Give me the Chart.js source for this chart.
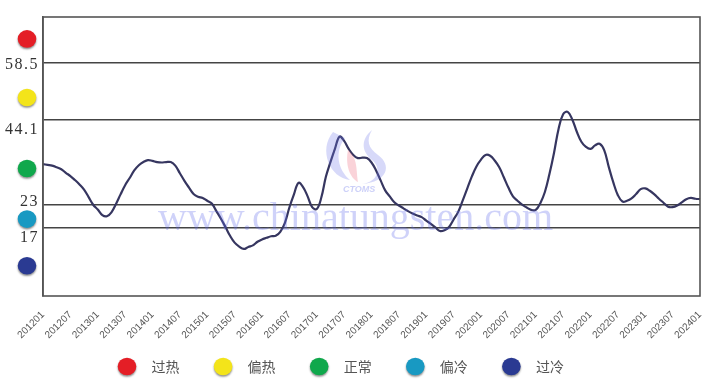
<!DOCTYPE html>
<html><head><meta charset="utf-8">
<script src="https://cdn.jsdelivr.net/npm/chart.js@4.4.1/dist/chart.umd.min.js"></script>
<style>html,body{margin:0;padding:0;background:#fff;}#wrap{position:relative;width:710px;height:382px;}</style>
</head><body><div id="wrap"><canvas id="c" width="710" height="382"></canvas></div>
<script>
// ---- data ----
const categories = [];
for (let y = 2012; y <= 2024; y++) for (let m = 1; m <= 12; m++) {
  if (y === 2024 && m > 1) break;
  categories.push(String(y) + (m < 10 ? '0' : '') + m);
}
const tickLabels = ['201201','201207','201301','201307','201401','201407','201501','201507','201601','201607','201701','201707','201801','201807','201901','201907','202001','202007','202101','202107','202201','202207','202301','202307','202401'];
const values = [33.1,32.9,32.7,32.3,31.8,30.9,30.1,29.1,28.0,26.7,
24.8,22.9,21.7,20.3,20.0,21.0,23.1,25.5,27.8,29.6,
31.5,32.8,33.6,34.1,33.9,33.6,33.5,33.6,33.6,32.7,
30.8,28.9,27.2,25.6,24.9,24.6,23.9,23.2,21.3,19.4,
17.3,15.1,13.4,12.4,11.8,12.3,12.7,13.6,14.2,14.6,
15.0,15.1,16.1,18.3,22.2,25.5,28.4,27.3,25.0,22.3,
21.8,24.7,29.9,33.6,37.0,40.0,38.9,36.9,35.4,34.6,
34.7,34.6,33.5,31.5,29.0,26.5,25.0,23.5,22.7,22.0,
21.3,20.7,20.2,19.8,18.9,18.1,17.2,16.3,16.5,17.3,
19.2,21.1,24.0,27.0,30.0,32.5,34.2,35.4,35.2,34.0,
32.3,29.8,27.2,25.0,23.9,22.9,22.2,21.6,21.6,23.3,
26.1,30.6,35.9,41.9,45.6,46.2,44.3,41.2,38.7,37.4,
36.9,37.8,38.2,36.6,32.4,28.5,25.3,23.7,23.9,24.5,
25.6,26.8,27.0,26.4,25.5,24.4,23.4,22.4,22.3,22.7,
23.5,24.3,24.6,24.4,24.3];
const yTickValues = [17, 23, 44.1, 58.5];
const yTickText = ['17', '23', '44.1', '58.5'];
const zoneNames = ['过热', '偏热', '正常', '偏冷', '过冷'];
const zoneColors = ['#e41e26', '#f3e41a', '#10a84c', '#1899c2', '#2a3a92'];
const zoneMarkerValues = [64.5, 49.8, 32.0, 19.3, 7.6];

// ---- drawing helpers ----
function dot(ctx, x, y, color) {
  ctx.save();
  ctx.shadowColor = 'rgba(0,0,0,0.45)';
  ctx.shadowBlur = 2;
  ctx.shadowOffsetY = 1.5;
  ctx.beginPath();
  ctx.ellipse(x, y, 9.3, 8.8, 0, 0, Math.PI * 2);
  ctx.fillStyle = color;
  ctx.fill();
  ctx.restore();
}
const labelShift = { '58.5': 2, '44.1': 10, '23': -3, '17': 10 };

const decor = {
  id: 'decor',
  afterDatasetsDraw(chart) {
    const ctx = chart.ctx, a = chart.chartArea;
    ctx.save();
    ctx.strokeStyle = '#555';
    ctx.lineWidth = 1.6;
    ctx.strokeRect(a.left, a.top, a.right - a.left, a.bottom - a.top);
    // watermark
    ctx.fillStyle = 'rgba(95,105,235,0.30)';
    ctx.font = '40px "Liberation Serif"';
    ctx.textBaseline = 'alphabetic';
    ctx.textAlign = 'left';
    ctx.fillText('www.chinatungsten.com', 158, 230);
    // logo
    ctx.fillStyle = 'rgba(110,120,235,0.28)';
    ctx.beginPath();
    ctx.moveTo(333, 132); ctx.bezierCurveTo(318, 150, 330, 178, 350, 180);
    ctx.bezierCurveTo(338, 170, 334, 152, 345, 138); ctx.closePath(); ctx.fill();
    ctx.beginPath();
    ctx.moveTo(372, 130); ctx.bezierCurveTo(360, 140, 362, 152, 372, 160);
    ctx.bezierCurveTo(382, 168, 378, 182, 362, 184);
    ctx.bezierCurveTo(388, 182, 392, 165, 378, 155);
    ctx.bezierCurveTo(368, 148, 366, 140, 372, 130); ctx.fill();
    ctx.fillStyle = 'rgba(240,110,130,0.30)';
    ctx.beginPath();
    ctx.moveTo(348, 150); ctx.bezierCurveTo(345, 165, 350, 178, 358, 182);
    ctx.bezierCurveTo(356, 170, 358, 158, 348, 150); ctx.fill();
    ctx.fillStyle = 'rgba(110,120,235,0.35)';
    ctx.font = 'italic bold 9px "Liberation Sans"';
    ctx.fillText('CTOMS', 343, 192);
    ctx.restore();
  },
  afterDraw(chart) {
    const ctx = chart.ctx, ys = chart.scales.y;
    ctx.save();
    ctx.fillStyle = '#333';
    ctx.font = '16px "Liberation Serif"';
    ctx.textAlign = 'right';
    ctx.textBaseline = 'middle';
    ctx.letterSpacing = '1.5px';
    yTickValues.forEach((v, i) => {
      const t = yTickText[i];
      ctx.fillText(t, 39, ys.getPixelForValue(v) + labelShift[t]);
    });
    ctx.letterSpacing = '0px';
    zoneMarkerValues.forEach((v, i) => dot(ctx, 27, ys.getPixelForValue(v), zoneColors[i]));
    ctx.textAlign = 'left';
    ctx.font = '14px "Noto Sans CJK SC"';
    ctx.fillStyle = '#555';
    zoneNames.forEach((n, i) => {
      const x = 127 + i * 96.1;
      dot(ctx, x, 366.5, zoneColors[i]);
      ctx.fillText(n, x + 24.5, 367);
    });
    ctx.restore();
  }
};

new Chart(document.getElementById('c'), {
  type: 'line',
  data: {
    labels: categories,
    datasets: [{
      data: values,
      borderColor: '#363660',
      borderWidth: 2.2,
      pointRadius: 0,
      tension: 0.4,
      fill: false
    }]
  },
  options: {
    responsive: false,
    animation: false,
    devicePixelRatio: 1,
    layout: { padding: { left: 0, top: 17, right: 10, bottom: 0 } },
    plugins: { legend: { display: false }, tooltip: { enabled: false } },
    scales: {
      x: {
        offset: false,
        grid: { display: false, drawTicks: false },
        border: { display: false },
        ticks: {
          autoSkip: false,
          minRotation: 45,
          maxRotation: 45,
          padding: 13,
          color: '#555',
          font: { family: '"Liberation Sans"', size: 10 },
          callback: function (val, idx) {
            const l = categories[idx];
            return tickLabels.includes(l) ? l : '';
          }
        },
        afterFit: s => { s.height = 86; s.paddingLeft = 0; s.paddingRight = 0; }
      },
      y: {
        min: 0,
        max: 70,
        afterBuildTicks: s => { s.ticks = yTickValues.map(v => ({ value: v })); },
        grid: { color: '#444', lineWidth: 1.5, drawTicks: false },
        border: { display: true, color: '#555', width: 1.6 },
        ticks: { display: false },
        afterFit: s => { s.width = 43; }
      }
    }
  },
  plugins: [decor]
});
</script>
</body></html>
